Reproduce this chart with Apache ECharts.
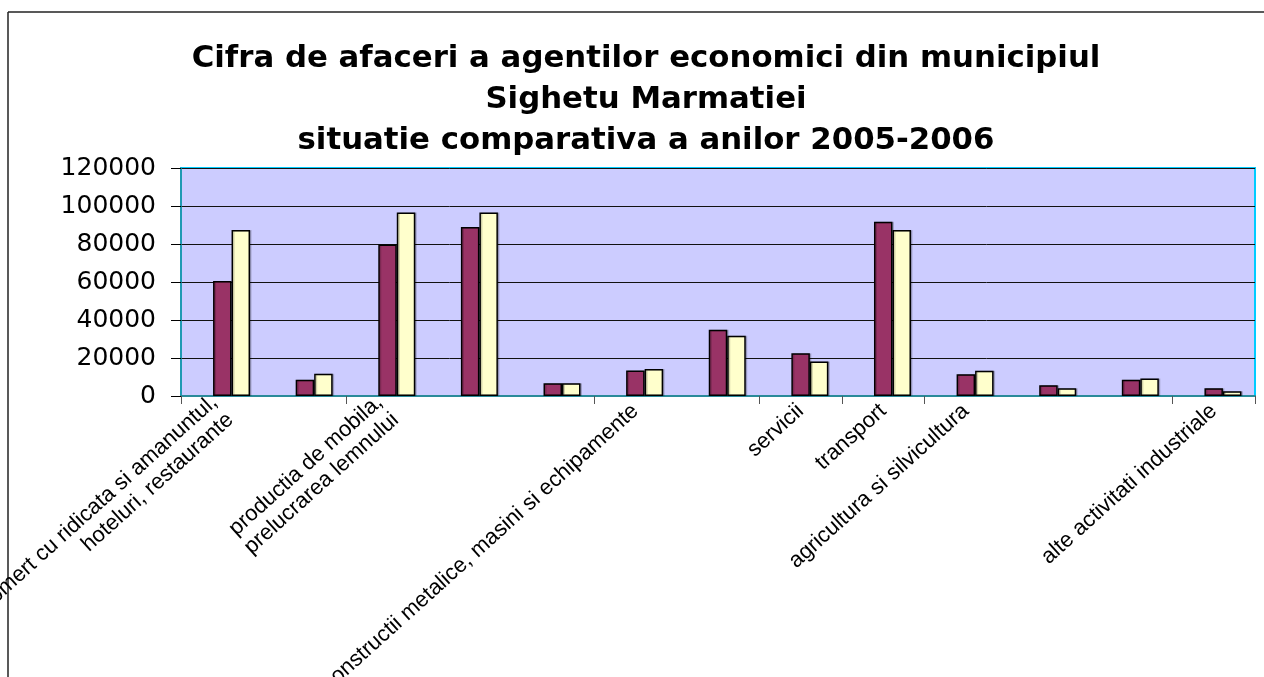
<!DOCTYPE html>
<html>
<head>
<meta charset="utf-8">
<script src="https://cdn.jsdelivr.net/npm/echarts@6/dist/echarts.min.js"></script>
<style>
html,body{margin:0;padding:0;background:#fff;}
#c{width:1264px;height:677px;}
</style>
</head>
<body>
<div id="c"></div>
<script>
var titleText = "Cifra de afaceri a agentilor economici din municipiul\nSighetu Marmatiei\nsituatie comparativa a anilor 2005-2006";
var categories = [
  "comert cu ridicata si amanuntul,\nhoteluri, restaurante",
  "industria textila",
  "productia de mobila,\nprelucrarea lemnului",
  "constructii",
  "industria alimentara",
  "constructii metalice, masini si echipamente",
  "prestari servicii",
  "servicii",
  "transport",
  "agricultura si silvicultura",
  "productie de energie",
  "posta si telecomunicatii",
  "alte activitati industriale"
];
var shownLabels = [0, 2, 5, 7, 8, 9, 12];
var seriesEmpty = [null, null, null, null, null, null, null, null, null, null, null, null, null];
var series2005 = [60500, 8500, 79800, 89000, 6700, 13400, 34900, 22500, 91700, 11500, 5700, 8500, 4100];
var series2006 = [87400, 11700, 96600, 96600, 6700, 14200, 31700, 18200, 87400, 13300, 4100, 9200, 2500];
var yTicks = { min: 0, max: 120000, interval: 20000 };

var chart = echarts.init(document.getElementById('c'));
var barStyle = function (color) {
  return { color: color, borderColor: '#000', borderWidth: 1.5,
           shadowColor: 'rgba(0,0,0,0.18)', shadowOffsetX: 1.5, shadowOffsetY: 0, shadowBlur: 0 };
};
chart.setOption({
  animation: false,
  backgroundColor: '#ffffff',
  title: {
    text: titleText,
    left: 641,
    textAlign: 'center',
    top: 33,
    textStyle: { fontFamily: 'DejaVu Sans', fontWeight: 'bold', fontSize: 30.8, lineHeight: 41, color: '#000' }
  },
  graphic: [
    { type: 'line', shape: { x1: 8, y1: 12, x2: 1264, y2: 12 }, style: { stroke: '#222', lineWidth: 1.5 } },
    { type: 'line', shape: { x1: 8, y1: 12, x2: 8, y2: 677 }, style: { stroke: '#222', lineWidth: 1.5 } }
  ],
  grid: {
    left: 181, right: 9, top: 168, bottom: 281,
    containLabel: false, outerBoundsMode: 'none',
    show: true, backgroundColor: '#CCCCFF', borderColor: '#00CCFF', borderWidth: 2
  },
  xAxis: {
    type: 'category',
    data: categories,
    axisLine: { lineStyle: { color: '#2a8a9a', width: 2 } },
    axisTick: { show: true, length: 8, lineStyle: { color: '#555' } },
    axisLabel: {
      rotate: 42,
      interval: function (idx) { return shownLabels.indexOf(idx) >= 0; },
      fontFamily: 'Liberation Sans', fontSize: 22, color: '#000', margin: 12, lineHeight: 24
    }
  },
  yAxis: {
    type: 'value',
    min: yTicks.min, max: yTicks.max, interval: yTicks.interval,
    axisLine: { show: true, lineStyle: { color: '#2a8a9a', width: 1.5 } },
    axisTick: { show: true, length: 10, lineStyle: { color: '#000' } },
    splitLine: { lineStyle: { color: '#111', width: 1 } },
    axisLabel: { fontFamily: 'DejaVu Sans', fontSize: 25, color: '#000', margin: 25,
                 formatter: function (v) { return String(v); } }
  },
  series: [
    { type: 'bar', name: '', data: seriesEmpty, barWidth: 18.5, barGap: '0%' },
    { type: 'bar', name: '2005', data: series2005, barWidth: 18.5, barGap: '0%', itemStyle: barStyle('#993366') },
    { type: 'bar', name: '2006', data: series2006, barWidth: 18.5, barGap: '0%', itemStyle: barStyle('#FFFFCC') }
  ]
});
</script>
</body>
</html>
